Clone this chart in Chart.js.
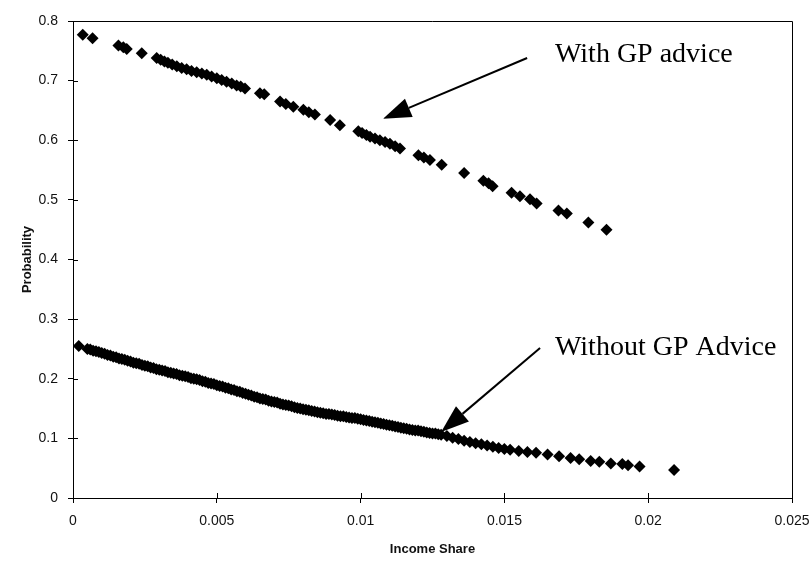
<!DOCTYPE html>
<html>
<head>
<meta charset="utf-8">
<title>Probability vs Income Share</title>
<script src="https://cdn.jsdelivr.net/npm/chart.js@4/dist/chart.umd.min.js"></script>
<style>
  html, body { margin: 0; padding: 0; background: #fff; }
  #wrap { width: 812px; height: 561px; position: relative; }
</style>
</head>
<body>
<div id="wrap"><canvas id="chart" width="812" height="561"></canvas></div>
<script>
// income share / probability pairs, with GP advice
const withShare = [0.00034,0.00068,0.00158,0.00175,0.00187,0.00239,0.00291,0.00305,0.00318,0.00330,
  0.00345,0.00361,0.00378,0.00395,0.00412,0.00430,0.00448,0.00465,0.00482,0.00500,
  0.00517,0.00534,0.00552,0.00569,0.00583,0.00598,0.00650,0.00665,0.00720,0.00740,
  0.00766,0.00801,0.00820,0.00841,0.00894,0.00928,0.00992,0.01005,0.01020,0.01033,
  0.01050,0.01067,0.01085,0.01102,0.01120,0.01137,0.01201,0.01220,0.01241,0.01282,
  0.01360,0.01427,0.01445,0.01459,0.01525,0.01554,0.01589,0.01612,0.01688,0.01717,
  0.01792,0.01855];
const withProb = [0.777,0.771,0.759,0.756,0.753,0.746,0.738,0.735,0.732,0.730,
  0.727,0.724,0.721,0.719,0.716,0.714,0.712,0.710,0.707,0.704,
  0.701,0.698,0.695,0.692,0.690,0.687,0.679,0.677,0.665,0.661,
  0.656,0.651,0.647,0.643,0.634,0.625,0.615,0.612,0.609,0.606,
  0.603,0.600,0.597,0.594,0.590,0.586,0.575,0.571,0.567,0.559,
  0.545,0.532,0.528,0.523,0.512,0.506,0.501,0.494,0.482,0.477,
  0.462,0.450];

// without GP advice
const withoutShare = [0.0002,
  0.0005,0.0006,0.0007,0.0008,0.0009,0.0010,0.0011,0.0012,0.0013,0.0014,
  0.0015,0.0016,0.0017,0.0018,0.0019,0.0020,0.0021,0.0022,0.0023,0.0024,
  0.0025,0.0026,0.0027,0.0028,0.0029,0.0030,0.0031,0.0032,0.0033,0.0034,
  0.0035,0.0036,0.0037,0.0038,0.0039,0.0040,0.0041,0.0042,0.0043,0.0044,
  0.0045,0.0046,0.0047,0.0048,0.0049,0.0050,0.0051,0.0052,0.0053,0.0054,
  0.0055,0.0056,0.0057,0.0058,0.0059,0.0060,0.0061,0.0062,0.0063,0.0064,
  0.0065,0.0066,0.0067,0.0068,0.0069,0.0070,0.0071,0.0072,0.0073,0.0074,
  0.0075,0.0076,0.0077,0.0078,0.0079,0.0080,0.0081,0.0082,0.0083,0.0084,
  0.0085,0.0086,0.0087,0.0088,0.0089,0.0090,0.0091,0.0092,0.0093,0.0094,
  0.0095,0.0096,0.0097,0.0098,0.0099,0.0100,0.0101,0.0102,0.0103,0.0104,
  0.0105,0.0106,0.0107,0.0108,0.0109,0.0110,0.0111,0.0112,0.0113,0.0114,
  0.0115,0.0116,0.0117,0.0118,0.0119,0.0120,0.0121,0.0122,0.0123,0.0124,
  0.0125,0.0126,0.0127,0.0128,0.0130,0.0132,0.0134,0.0136,0.0138,0.0140,
  0.0142,0.0144,0.0146,0.0148,0.0150,0.0152,0.0155,0.0158,0.0161,0.0165,
  0.0169,0.0173,0.0176,0.0180,0.0183,0.0187,0.0191,0.0193,0.0197,0.0209];
const withoutProb = [0.255,
  0.250,0.249,0.247,0.246,0.245,0.243,0.242,0.240,0.239,0.237,
  0.236,0.234,0.233,0.232,0.230,0.229,0.227,0.226,0.225,0.223,
  0.222,0.221,0.219,0.218,0.216,0.215,0.214,0.213,0.211,0.210,
  0.209,0.208,0.206,0.205,0.204,0.203,0.201,0.200,0.199,0.198,
  0.196,0.195,0.193,0.192,0.191,0.189,0.188,0.187,0.185,0.184,
  0.182,0.181,0.179,0.178,0.176,0.175,0.173,0.172,0.170,0.169,
  0.167,0.166,0.165,0.163,0.162,0.161,0.160,0.158,0.157,0.156,
  0.155,0.154,0.152,0.151,0.150,0.149,0.148,0.147,0.146,0.145,
  0.144,0.143,0.142,0.141,0.141,0.140,0.139,0.138,0.137,0.137,
  0.136,0.135,0.134,0.134,0.133,0.132,0.131,0.130,0.129,0.128,
  0.127,0.126,0.125,0.124,0.123,0.122,0.121,0.120,0.119,0.118,
  0.117,0.116,0.115,0.114,0.113,0.113,0.112,0.111,0.110,0.109,
  0.108,0.108,0.107,0.106,0.104,0.101,0.099,0.096,0.094,0.092,
  0.090,0.088,0.086,0.084,0.082,0.081,0.079,0.077,0.076,0.073,
  0.070,0.067,0.065,0.062,0.061,0.058,0.057,0.055,0.053,0.047];

const xTicks = [0, 0.005, 0.01, 0.015, 0.02, 0.025];
const yTicks = [0, 0.1, 0.2, 0.3, 0.4, 0.5, 0.6, 0.7, 0.8];

// callouts: text anchor and arrow tail/head, in data units
const callouts = [
  { text: 'With GP advice', at: [0.01676, 0.731], tail: [0.01579, 0.738], head: [0.01078, 0.636] },
  { text: 'Without GP Advice', at: [0.01676, 0.240], tail: [0.01624, 0.2517], head: [0.0128, 0.1107] }
];

const pts = (xs, ys) => xs.map((x, i) => ({ x: x, y: ys[i] }));

const framePlugin = {
  id: 'frame',
  afterDraw(chart) {
    const { ctx, chartArea: a, scales } = chart;
    const xs = scales.x, ys = scales.y;
    ctx.save();
    ctx.strokeStyle = '#000';
    ctx.lineWidth = 1;
    // top and right edges of the plot box
    ctx.beginPath();
    ctx.moveTo(a.left, a.top + 0.5);
    ctx.lineTo(a.right + 0.5, a.top + 0.5);
    ctx.lineTo(a.right + 0.5, a.bottom);
    ctx.stroke();
    // inner half of the tick marks
    ctx.beginPath();
    xTicks.forEach(v => {
      const px = Math.round(xs.getPixelForValue(v)) + 0.5;
      ctx.moveTo(px, a.bottom);
      ctx.lineTo(px, a.bottom - 5);
    });
    yTicks.forEach(v => {
      const py = Math.round(ys.getPixelForValue(v)) + 0.5;
      ctx.moveTo(a.left, py);
      ctx.lineTo(a.left + 5, py);
    });
    ctx.stroke();

    // callout text and arrows
    ctx.fillStyle = '#000';
    ctx.font = '28px "Liberation Serif", "Times New Roman", serif';
    ctx.textBaseline = 'alphabetic';
    callouts.forEach(c => {
      const tx = xs.getPixelForValue(c.at[0]), ty = ys.getPixelForValue(c.at[1]);
      ctx.fillText(c.text, tx, ty);
      const x0 = xs.getPixelForValue(c.tail[0]), y0 = ys.getPixelForValue(c.tail[1]);
      const x1 = xs.getPixelForValue(c.head[0]), y1 = ys.getPixelForValue(c.head[1]);
      const ang = Math.atan2(y1 - y0, x1 - x0);
      const hl = 28, hw = 10;
      const bx = x1 - hl * Math.cos(ang), by = y1 - hl * Math.sin(ang);
      ctx.lineWidth = 2;
      ctx.beginPath();
      ctx.moveTo(x0, y0);
      ctx.lineTo(bx, by);
      ctx.stroke();
      ctx.beginPath();
      ctx.moveTo(x1, y1);
      ctx.lineTo(bx + hw * Math.sin(ang), by - hw * Math.cos(ang));
      ctx.lineTo(bx - hw * Math.sin(ang), by + hw * Math.cos(ang));
      ctx.closePath();
      ctx.fill();
    });
    ctx.restore();
  }
};

const bgPlugin = {
  id: 'bg',
  beforeDraw(chart) {
    const ctx = chart.ctx;
    ctx.save();
    ctx.fillStyle = '#fff';
    ctx.fillRect(0, 0, chart.width, chart.height);
    ctx.restore();
  }
};

const tickFont = { family: '"Liberation Sans", Arial, sans-serif', size: 14 };
const titleFont = { family: '"Liberation Sans", Arial, sans-serif', size: 13, weight: 'bold' };

new Chart(document.getElementById('chart'), {
  type: 'scatter',
  data: {
    datasets: [
      { label: 'With GP advice', data: pts(withShare, withProb) },
      { label: 'Without GP Advice', data: pts(withoutShare, withoutProb) }
    ]
  },
  options: {
    responsive: false,
    animation: false,
    events: [],
    layout: { padding: { left: 0, top: 21, right: 20, bottom: 0 } },
    elements: {
      point: {
        pointStyle: 'rectRot',
        radius: 6,
        backgroundColor: '#000',
        borderColor: '#000',
        borderWidth: 0
      }
    },
    plugins: {
      legend: { display: false },
      tooltip: { enabled: false }
    },
    scales: {
      x: {
        type: 'linear',
        min: 0,
        max: 0.025,
        afterFit(s) { s.height = 63; s.paddingLeft = 0; s.paddingRight = 0; },
        afterBuildTicks(s) { s.ticks = xTicks.map(v => ({ value: v })); },
        border: { display: true, color: '#000', width: 1 },
        grid: { drawOnChartArea: false, color: '#000', tickLength: 5, tickColor: '#000' },
        ticks: {
          color: '#111',
          font: tickFont,
          padding: 10,
          maxRotation: 0,
          callback: v => String(+v.toFixed(3))
        },
        title: {
          display: true,
          text: 'Income Share',
          color: '#111',
          font: titleFont,
          padding: { top: 0, bottom: 4 }
        }
      },
      y: {
        type: 'linear',
        min: 0,
        max: 0.8,
        afterFit(s) { s.width = 73; s.paddingTop = 0; s.paddingBottom = 0; },
        afterBuildTicks(s) { s.ticks = yTicks.map(v => ({ value: v })); },
        border: { display: true, color: '#000', width: 1 },
        grid: { drawOnChartArea: false, color: '#000', tickLength: 5, tickColor: '#000' },
        ticks: {
          color: '#111',
          font: tickFont,
          padding: 10,
          callback: v => String(+v.toFixed(1))
        },
        title: {
          display: true,
          text: 'Probability',
          color: '#111',
          font: titleFont,
          padding: { top: 20, bottom: 0 }
        }
      }
    }
  },
  plugins: [bgPlugin, framePlugin]
});
</script>
</body>
</html>
